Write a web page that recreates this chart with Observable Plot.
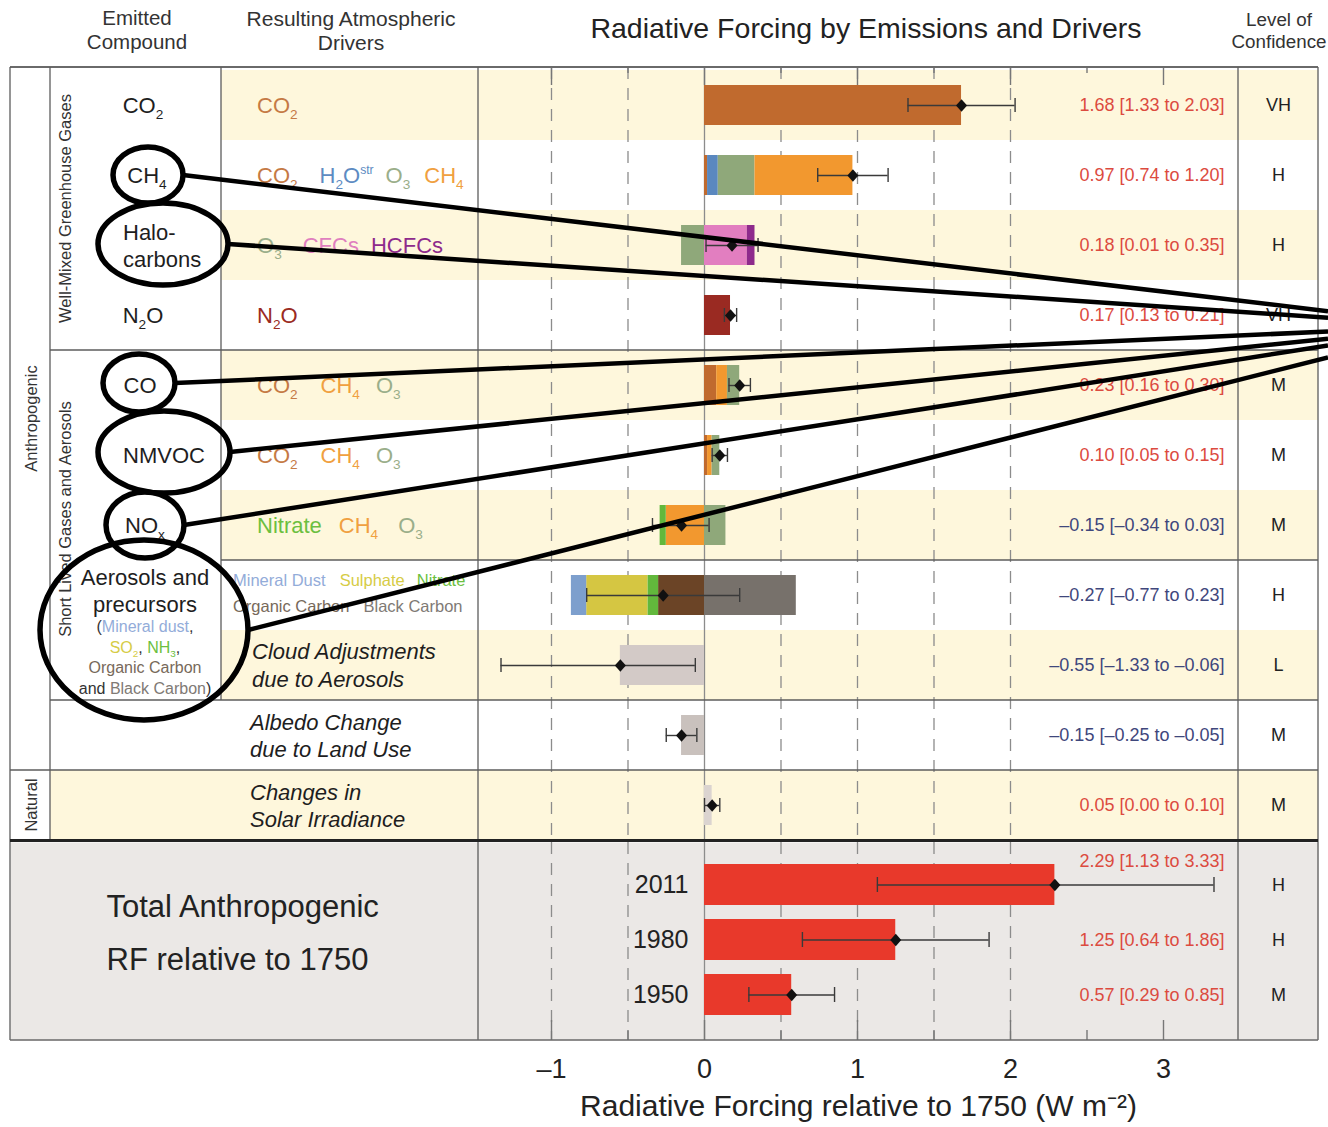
<!DOCTYPE html>
<html>
<head>
<meta charset="utf-8">
<script src="https://cdn.jsdelivr.net/npm/d3@7"></script>
<script src="https://cdn.jsdelivr.net/npm/@observablehq/plot@0.6"></script>
<style>
  body { margin: 0; background: #fff; overflow: hidden; }
  #fig { width: 1328px; height: 1127px; position: relative; }
  #fig svg { display: block; }
</style>
</head>
<body>
<div id="fig"></div>
<script>
const FONT = '"Liberation Sans", Arial, Helvetica, sans-serif';

// ---- Data: radiative forcing by emitted compound (W m-2, relative to 1750) ----
const rows       = ["CO2", "CH4", "Halocarbons", "N2O", "CO", "NMVOC", "NOx", "Aerosols", "Cloud", "Albedo", "Solar"];
const best       = [1.68, 0.97, 0.18, 0.17, 0.23, 0.10, -0.15, -0.27, -0.55, -0.15, 0.05];
const low        = [1.33, 0.74, 0.01, 0.13, 0.16, 0.05, -0.34, -0.77, -1.33, -0.25, 0.00];
const high       = [2.03, 1.20, 0.35, 0.21, 0.30, 0.15, 0.03, 0.23, -0.06, -0.05, 0.10];
const confidence = ["VH", "H", "H", "VH", "M", "M", "M", "H", "L", "M", "M"];

// Contribution of each resulting atmospheric driver, listed from zero outward
const contributions = [
  ["CO2", "CO2", 1.68],
  ["CH4", "CO2", 0.02], ["CH4", "H2Ostr", 0.07], ["CH4", "O3", 0.24], ["CH4", "CH4", 0.64],
  ["Halocarbons", "O3", -0.15], ["Halocarbons", "CFCs", 0.28], ["Halocarbons", "HCFCs", 0.05],
  ["N2O", "N2O", 0.17],
  ["CO", "CO2", 0.08], ["CO", "CH4", 0.07], ["CO", "O3", 0.08],
  ["NMVOC", "CO2", 0.02], ["NMVOC", "CH4", 0.03], ["NMVOC", "O3", 0.05],
  ["NOx", "CH4", -0.25], ["NOx", "Nitrate", -0.04], ["NOx", "O3", 0.14],
  ["Aerosols", "Black Carbon", 0.60], ["Aerosols", "Organic Carbon", -0.30], ["Aerosols", "Nitrate", -0.07],
  ["Aerosols", "Sulphate", -0.40], ["Aerosols", "Mineral Dust", -0.10],
  ["Cloud", "Cloud", -0.55],
  ["Albedo", "Albedo", -0.15],
  ["Solar", "Solar", 0.05]
];

// Total anthropogenic forcing
const years     = ["2011", "1980", "1950"];
const totalBest = [2.29, 1.25, 0.57];
const totalLow  = [1.13, 0.64, 0.29];
const totalHigh = [3.33, 1.86, 0.85];
const totalConf = ["H", "H", "M"];

const xTicks = [-1, 0, 1, 2, 3];
const gridLines = [-1, -0.5, 0.5, 1, 1.5, 2];

// ---- Colours ----
const driverNames  = ["CO2", "H2Ostr", "O3", "CH4", "CFCs", "HCFCs", "N2O", "Nitrate", "Mineral Dust", "Sulphate", "Organic Carbon", "Black Carbon", "Cloud", "Albedo", "Solar"];
const driverColors = ["#c06a2e", "#5a88bf", "#8fa87a", "#f2982f", "#e27ec0", "#8e2a8c", "#9a2a22", "#62b83c", "#7d9fcd", "#d5c642", "#6b4426", "#77716b", "#d3cac7", "#c9c1bd", "#dbd4d0"];
const C = {co2: "#c57a45", h2o: "#5d8bc2", o3: "#9aae8a", ch4: "#f0a040", cfc: "#e07fbf", hcfc: "#8e2a8c",
           n2o: "#9a2a22", nit: "#6cbf40", dust: "#93acd9", sul: "#d6cc46", oc: "#77695a", bc: "#807a75", ink: "#1e1e1e"};
const CREAM = "#fef7dc", GREY = "#ebe8e6", RED = "#e8392b", POS = "#dc4b3f", NEG = "#3f477c";

// ---- Layout ----
const W = 1328, H = 1127, TOP = 67, ROWS_BOTTOM = 842;
const COL_OUTER = 10, COL_GROUP = 50, COL_DRIVERS = 221, PANEL_L = 478, PANEL_R = 1238, COL_RIGHT = 1318;
const xDomain = [(PANEL_L - 704) / 153, (PANEL_R - 704) / 153];

const table = rows.map((row, i) => ({row, best: best[i], low: low[i], high: high[i], conf: confidence[i]}));
const segs = contributions.map(([row, driver, value]) => ({row, driver, value}));
const totals = years.map((year, i) => ({year, best: totalBest[i], low: totalLow[i], high: totalHigh[i], conf: totalConf[i]}));
const creamRows = ["CO2", "Halocarbons", "CO", "NOx", "Cloud"];

const fmt = v => (v < 0 ? "–" : "") + Math.abs(v).toFixed(2);
const rangeLabel = d => `${fmt(d.best)} [${fmt(d.low)} to ${fmt(d.high)}]`;
const halfSteps = d3.range(-1, 3.01, 0.5);
const major = halfSteps.filter(v => Number.isInteger(v));
const minor = halfSteps.filter(v => !Number.isInteger(v));

// Filled diamond marking the best estimate
const diamond = {
  draw(ctx, size) {
    const r = Math.sqrt(size / Math.PI), w = r * 1.15, h = r * 1.3;
    ctx.moveTo(0, -h); ctx.lineTo(w, 0); ctx.lineTo(0, h); ctx.lineTo(-w, 0); ctx.closePath();
  }
};

function errorMarks(data, y, capInset) {
  return [
    Plot.ruleY(data, {y, x1: "low", x2: "high", stroke: "#3a3a3a", strokeWidth: 1.4}),
    Plot.tickX(data, {y, x: "low", stroke: "#3a3a3a", strokeWidth: 1.4, insetTop: capInset, insetBottom: capInset}),
    Plot.tickX(data, {y, x: "high", stroke: "#3a3a3a", strokeWidth: 1.4, insetTop: capInset, insetBottom: capInset}),
    Plot.dot(data, {y, x: "best", symbol: diamond, r: 4.8, fill: "#111", stroke: "none"})
  ];
}

// ---- Main table of drivers ----
const frameHA = ROWS_BOTTOM - TOP;
const plotA = Plot.plot({
  width: W, height: ROWS_BOTTOM,
  marginTop: TOP, marginBottom: 0, marginLeft: PANEL_L, marginRight: W - PANEL_R,
  style: {fontFamily: FONT, fontSize: "18px", background: "transparent", overflow: "visible"},
  x: {domain: xDomain, axis: null},
  y: {domain: rows, padding: 0, axis: null},
  color: {domain: driverNames, range: driverColors},
  marks: [
    Plot.cell(creamRows, {y: d => d, fill: CREAM, insetLeft: -(PANEL_L - COL_DRIVERS), insetRight: -(COL_RIGHT - PANEL_R)}),
    Plot.cell(["Solar"], {y: d => d, fill: CREAM, insetLeft: -(PANEL_L - COL_GROUP), insetRight: -(COL_RIGHT - PANEL_R)}),
    Plot.ruleX(gridLines, {stroke: "#8c8c8c", strokeWidth: 1.3, strokeDasharray: "12,9"}),
    Plot.ruleX([0], {stroke: "#8c8c8c", strokeWidth: 1.3}),
    Plot.ruleX(major, {stroke: "#777", strokeWidth: 1.4, insetBottom: frameHA - 18}),
    Plot.ruleX(minor, {stroke: "#777", strokeWidth: 1.4, insetBottom: frameHA - 6}),
    Plot.barX(segs, Plot.stackX({x: "value", y: "row", fill: "driver", insetTop: 15, insetBottom: 15})),
    ...errorMarks(table, "row", 28),
    Plot.text(table, {filter: d => d.best >= 0, y: "row", text: rangeLabel, frameAnchor: "right", dx: -14, textAnchor: "end", fill: POS, fontSize: 18}),
    Plot.text(table, {filter: d => d.best < 0, y: "row", text: rangeLabel, frameAnchor: "right", dx: -14, textAnchor: "end", fill: NEG, fontSize: 18}),
    Plot.text(table, {y: "row", text: "conf", frameAnchor: "right", dx: 40, textAnchor: "middle", fill: "#222", fontSize: 18})
  ]
});

// ---- Totals ----
const frameHB = H - ROWS_BOTTOM - 87;
const plotB = Plot.plot({
  width: W, height: H - ROWS_BOTTOM,
  marginTop: 0, marginBottom: 87, marginLeft: PANEL_L, marginRight: W - PANEL_R,
  style: {fontFamily: FONT, fontSize: "27px", background: "transparent", overflow: "visible"},
  x: {domain: xDomain, axis: null},
  y: {domain: years, paddingInner: 0.26, paddingOuter: 0.4, align: 0.46, axis: null},
  marks: [
    Plot.frame({fill: GREY, stroke: "none", insetLeft: -(PANEL_L - COL_OUTER), insetRight: -(COL_RIGHT - PANEL_R)}),
    Plot.ruleX(gridLines, {stroke: "#8c8c8c", strokeWidth: 1.3, strokeDasharray: "12,9"}),
    Plot.ruleX([0], {stroke: "#8c8c8c", strokeWidth: 1.3}),
    Plot.ruleX(major, {stroke: "#777", strokeWidth: 1.4, insetTop: frameHB - 20}),
    Plot.ruleX(minor, {stroke: "#777", strokeWidth: 1.4, insetTop: frameHB - 10}),
    Plot.barX(totals, {x: "best", y: "year", fill: RED}),
    ...errorMarks(totals, "year", 13),
    // a label whose upper bound reaches under the text sits above its bar
    Plot.text(totals, {filter: d => d.high <= 2.4, y: "year", text: rangeLabel, frameAnchor: "right", dx: -14, textAnchor: "end", fill: POS, fontSize: 18}),
    Plot.text(totals, {filter: d => d.high > 2.4, y: "year", text: rangeLabel, frameAnchor: "right", dx: -14, dy: -24, textAnchor: "end", fill: POS, fontSize: 18}),
    Plot.text(totals, {y: "year", text: "conf", frameAnchor: "right", dx: 40, textAnchor: "middle", fill: "#222", fontSize: 18}),
    Plot.text(totals, {y: "year", text: "year", frameAnchor: "left", dx: 210, textAnchor: "end", fill: "#222", fontSize: 25}),
    Plot.text(["Total Anthropogenic\nRF relative to 1750"], {frameAnchor: "left", dx: -(PANEL_L - 106), dy: -15, textAnchor: "start", lineHeight: 1.72, fill: "#222", fontSize: 31}),
    Plot.axisX({ticks: xTicks, tickSize: 0, tickPadding: 18, tickFormat: v => (v < 0 ? "–" : "") + Math.abs(v), label: null, fill: "#222"}),
    Plot.text(["Radiative Forcing relative to 1750 (W m⁻²)"], {frameAnchor: "bottom", dy: 75, fill: "#222", fontSize: 30})
  ]
});

const fig = document.getElementById("fig");
fig.append(plotA, plotB);

// ---- Table frame, row labels and call-outs ----
const ys = plotA.scale("y");
const bw = ys.bandwidth;
const yTop = r => ys.apply(r), yMid = r => ys.apply(r) + bw / 2, yBot = r => ys.apply(r) + bw;

function rich(g, x, cy, parts, size, opts = {}) {
  const t = g.append("text")
    .attr("x", x).attr("y", cy + size * 0.36)
    .attr("font-size", size)
    .attr("text-anchor", opts.anchor || "start")
    .attr("font-style", opts.italic ? "italic" : null)
    .attr("fill", opts.color || C.ink);
  let shift = 0, gap = 0;
  for (const [s, color, mode] of parts) {
    if (mode === "gap") { gap += s; continue; }
    const target = mode === "sub" ? size * 0.28 : mode === "sup" ? -size * 0.4 : 0;
    const ts = t.append("tspan").text(s);
    if (color) ts.attr("fill", color);
    if (mode === "sub" || mode === "sup") ts.attr("font-size", size * (mode === "sup" ? 0.55 : 0.62));
    if (target !== shift) ts.attr("dy", target - shift);
    if (gap) ts.attr("dx", gap);
    shift = target; gap = 0;
  }
  return t;
}
function rotated(g, x, cy, text, size) {
  g.append("text").attr("transform", `translate(${x},${cy}) rotate(-90)`)
    .attr("text-anchor", "middle").attr("dy", "0.35em").attr("font-size", size).attr("fill", "#333").text(text);
}
function rule(g, x1, y1, x2, y2, w = 1.3, c = "#5c5c5c") {
  g.append("line").attr("x1", x1).attr("y1", y1).attr("x2", x2).attr("y2", y2).attr("stroke", c).attr("stroke-width", w);
}

const svgA = d3.select(plotA);
const chrome = svgA.append("g").attr("font-family", FONT);

// grid of the table
rule(chrome, COL_OUTER, TOP, COL_RIGHT, TOP, 1.8, "#6a6a6a");
for (const x of [COL_OUTER, COL_GROUP, PANEL_L, PANEL_R, COL_RIGHT]) rule(chrome, x, TOP, x, ROWS_BOTTOM);
rule(chrome, COL_DRIVERS, TOP, COL_DRIVERS, yBot("Cloud"));
rule(chrome, COL_GROUP, yBot("N2O"), COL_RIGHT, yBot("N2O"));
rule(chrome, COL_DRIVERS, yBot("NOx"), COL_RIGHT, yBot("NOx"));
rule(chrome, COL_GROUP, yBot("Cloud"), COL_RIGHT, yBot("Cloud"));
rule(chrome, COL_OUTER, yBot("Albedo"), COL_RIGHT, yBot("Albedo"));
rule(chrome, COL_OUTER, ROWS_BOTTOM - 1.5, COL_RIGHT, ROWS_BOTTOM - 1.5, 3, "#222");

// headers
const hdr = chrome.append("g");
rich(hdr, 137, 18, [["Emitted"]], 20.5, {anchor: "middle", color: "#333"});
rich(hdr, 137, 42, [["Compound"]], 20.5, {anchor: "middle", color: "#333"});
rich(hdr, 351, 18, [["Resulting Atmospheric"]], 21, {anchor: "middle", color: "#333"});
rich(hdr, 351, 42, [["Drivers"]], 21, {anchor: "middle", color: "#333"});
rich(hdr, 866, 28, [["Radiative Forcing by Emissions and Drivers"]], 28.5, {anchor: "middle", color: "#222"});
rich(hdr, 1279, 19, [["Level of"]], 18.8, {anchor: "middle", color: "#333"});
rich(hdr, 1279, 41, [["Confidence"]], 18.8, {anchor: "middle", color: "#333"});

// group labels
rotated(chrome, 31, (TOP + yBot("Albedo")) / 2, "Anthropogenic", 16.5);
rotated(chrome, 31, yMid("Solar"), "Natural", 16.5);
rotated(chrome, 65, (TOP + yBot("N2O")) / 2, "Well-Mixed Greenhouse Gases", 16.5);
rotated(chrome, 65, (yTop("CO") + yBot("Cloud")) / 2 - 6, "Short Lived Gases and Aerosols", 16.5);

// emitted compounds
const comp = chrome.append("g");
rich(comp, 143, yMid("CO2"), [["CO"], ["2", null, "sub"]], 22, {anchor: "middle"});
rich(comp, 147, yMid("CH4"), [["CH"], ["4", null, "sub"]], 22, {anchor: "middle"});
rich(comp, 123, yMid("Halocarbons") - 13, [["Halo-"]], 22);
rich(comp, 123, yMid("Halocarbons") + 14, [["carbons"]], 22);
rich(comp, 143, yMid("N2O"), [["N"], ["2", null, "sub"], ["O"]], 22, {anchor: "middle"});
rich(comp, 140, yMid("CO"), [["CO"]], 22, {anchor: "middle"});
rich(comp, 164, yMid("NMVOC"), [["NMVOC"]], 22, {anchor: "middle"});
rich(comp, 145, yMid("NOx"), [["NO"], ["x", null, "sub"]], 22, {anchor: "middle"});
const aeroMid = (yTop("Aerosols") + yBot("Cloud")) / 2;
rich(comp, 145, aeroMid - 53, [["Aerosols and"]], 22, {anchor: "middle"});
rich(comp, 145, aeroMid - 26, [["precursors"]], 22, {anchor: "middle"});
rich(comp, 145, aeroMid - 4, [["(", "#333"], ["Mineral dust", C.dust], [",", "#333"]], 16, {anchor: "middle"});
rich(comp, 145, aeroMid + 17, [["SO", C.sul], ["2", C.sul, "sub"], [", ", "#333"], ["NH", C.nit], ["3", C.nit, "sub"], [",", "#333"]], 16, {anchor: "middle"});
rich(comp, 145, aeroMid + 37, [["Organic Carbon", C.oc]], 16, {anchor: "middle"});
rich(comp, 145, aeroMid + 58, [["and ", "#333"], ["Black Carbon", C.bc], [")", "#333"]], 16, {anchor: "middle"});

// resulting drivers
const drv = chrome.append("g");
const DX = 257;
rich(drv, DX, yMid("CO2"), [["CO", C.co2], ["2", C.co2, "sub"]], 22);
rich(drv, DX, yMid("CH4"), [["CO", C.co2], ["2", C.co2, "sub"], [22, null, "gap"], ["H", C.h2o], ["2", C.h2o, "sub"], ["O", C.h2o], ["str", C.h2o, "sup"],
  [12, null, "gap"], ["O", C.o3], ["3", C.o3, "sub"], [14, null, "gap"], ["CH", C.ch4], ["4", C.ch4, "sub"]], 22);
rich(drv, DX, yMid("Halocarbons"), [["O", C.o3], ["3", C.o3, "sub"], [21, null, "gap"], ["CFCs", C.cfc], [12, null, "gap"], ["HCFCs", C.hcfc]], 22);
rich(drv, DX, yMid("N2O"), [["N", C.n2o], ["2", C.n2o, "sub"], ["O", C.n2o]], 22);
for (const r of ["CO", "NMVOC"]) {
  rich(drv, DX, yMid(r), [["CO", C.co2], ["2", C.co2, "sub"], [23, null, "gap"], ["CH", C.ch4], ["4", C.ch4, "sub"], [16, null, "gap"], ["O", C.o3], ["3", C.o3, "sub"]], 22);
}
rich(drv, DX, yMid("NOx"), [["Nitrate", C.nit], [17, null, "gap"], ["CH", C.ch4], ["4", C.ch4, "sub"], [20, null, "gap"], ["O", C.o3], ["3", C.o3, "sub"]], 22);
rich(drv, 233, yMid("Aerosols") - 15, [["Mineral Dust", C.dust], [14, null, "gap"], ["Sulphate", C.sul], [12, null, "gap"], ["Nitrate", C.nit]], 16.5);
rich(drv, 233, yMid("Aerosols") + 11, [["Organic Carbon", C.oc], [14, null, "gap"], ["Black Carbon", C.bc]], 16.5);
rich(drv, 252, yMid("Cloud") - 14, [["Cloud Adjustments"]], 22, {italic: true});
rich(drv, 252, yMid("Cloud") + 14, [["due to Aerosols"]], 22, {italic: true});
rich(drv, 250, yMid("Albedo") - 13, [["Albedo Change"]], 22, {italic: true});
rich(drv, 250, yMid("Albedo") + 14, [["due to Land Use"]], 22, {italic: true});
rich(drv, 250, yMid("Solar") - 13, [["Changes in"]], 22, {italic: true});
rich(drv, 250, yMid("Solar") + 14, [["Solar Irradiance"]], 22, {italic: true});

// call-outs: circled compounds joined to a common point off to the right
const callouts = [
  {cx: 148, cy: yMid("CH4"), rx: 35, ry: 28},
  {cx: 163, cy: yMid("Halocarbons") - 1, rx: 65, ry: 41},
  {cx: 139, cy: yMid("CO") - 2, rx: 36, ry: 29},
  {cx: 164, cy: yMid("NMVOC") - 3, rx: 66, ry: 41},
  {cx: 145, cy: yMid("NOx"), rx: 39, ry: 33},
  {cx: 144, cy: aeroMid, rx: 104, ry: 90}
];
const focus = [1452, yMid("N2O") + 11];
const notes = svgA.append("g").attr("fill", "none").attr("stroke", "#000");
for (const c of callouts) {
  notes.append("ellipse").attr("cx", c.cx).attr("cy", c.cy).attr("rx", c.rx).attr("ry", c.ry).attr("stroke-width", 5.5);
  const x0 = c.cx + c.rx, y0 = c.cy;
  const t = (W - x0) / (focus[0] - x0);
  notes.append("line").attr("x1", x0).attr("y1", y0).attr("x2", W).attr("y2", y0 + t * (focus[1] - y0)).attr("stroke-width", 4.5);
}

// frame of the totals block
const chromeB = d3.select(plotB).append("g");
for (const x of [COL_OUTER, PANEL_L, PANEL_R, COL_RIGHT]) rule(chromeB, x, 0, x, frameHB);
rule(chromeB, COL_OUTER, frameHB, COL_RIGHT, frameHB, 1.6, "#6a6a6a");
</script>
</body>
</html>
